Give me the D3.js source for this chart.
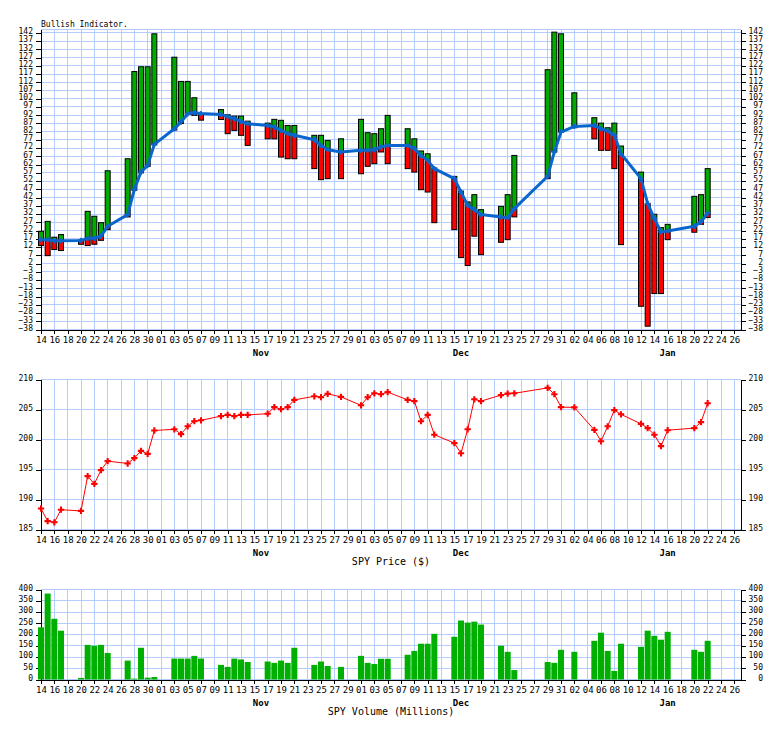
<html>
<head>
<meta charset="utf-8">
<title>Bullish Indicator</title>
<style>
  body { margin: 0; background: #fff; }
  text { font-family: "DejaVu Sans Mono", monospace; fill: #000; }
  .grid line { stroke: #b4ccff; stroke-width: 1; shape-rendering: crispEdges; }
  .axis path, .axis line { stroke: #000; shape-rendering: crispEdges; }
  .axis text { font-size: 8px; }
  .xaxis text { font-size: 9px; }
  .month { font-size: 9px; font-weight: bold; text-anchor: middle; }
  .caption { font-size: 10px; text-anchor: middle; }
  .ma { fill: none; stroke: #0a66cc; stroke-width: 3; stroke-linejoin: round; }
  .price { fill: none; stroke: #ff0000; stroke-width: 1; }
</style>
</head>
<body>
<svg width="784" height="729"></svg>
<script src="https://cdnjs.cloudflare.com/ajax/libs/d3/7.8.5/d3.min.js"></script>
<script>
// trading days
var days = [
  "2014-10-14","2014-10-15","2014-10-16","2014-10-17","2014-10-20","2014-10-21","2014-10-22",
  "2014-10-23","2014-10-24","2014-10-27","2014-10-28","2014-10-29","2014-10-30","2014-10-31",
  "2014-11-03","2014-11-04","2014-11-05","2014-11-06","2014-11-07","2014-11-10","2014-11-11",
  "2014-11-12","2014-11-13","2014-11-14","2014-11-17","2014-11-18","2014-11-19","2014-11-20",
  "2014-11-21","2014-11-24","2014-11-25","2014-11-26","2014-11-28",
  "2014-12-01","2014-12-02","2014-12-03","2014-12-04","2014-12-05","2014-12-08","2014-12-09",
  "2014-12-10","2014-12-11","2014-12-12","2014-12-15","2014-12-16","2014-12-17","2014-12-18",
  "2014-12-19","2014-12-22","2014-12-23","2014-12-24","2014-12-29","2014-12-30","2014-12-31",
  "2015-01-02","2015-01-05","2015-01-06","2015-01-07","2015-01-08","2015-01-09","2015-01-12",
  "2015-01-13","2015-01-14","2015-01-15","2015-01-16","2015-01-20","2015-01-21","2015-01-22"
];

// bullish indicator: bar top, bar bottom, moving average
var indTop = [
  21.6, 27.6, 18, 19.6, 16.3, 33.7, 30.7, 26.8, 58.3, 65.6, 118.5, 121.4, 121.4, 141.4,
  127.2, 112.5, 112.5, 102.6, 93, 95.4, 92.3, 91.5, 91.5, 88.4, 87.2, 89.5, 88.9, 85.8,
  85.8, 79.8, 79.8, 76.7, 77.7,
  89.5, 81.4, 80.8, 83.8, 91.9, 83.8, 77.7, 70.3, 68.6, 60, 54.9, 46, 39.4, 43.8,
  34.7, 36.7, 43.8, 67.6, 119.6, 142.4, 141.4,
  105.6, 90.5, 87.2, 84.4, 87.2, 73.3, 57.5, 38.4, 31.9, 23.8, 25.8, 42.8, 43.8, 59.6
];
var indBottom = [
  12.9, 6.8, 10.5, 9.9, 13.7, 12.9, 13.7, 16.1, 22.6, 30.3, 46.5, 57, 61, 74,
  83, 87, 92.5, 91.9, 89, 89.4, 80.8, 82.8, 79.8, 73.7, 77.7, 77.7, 66.6, 65.6,
  65.6, 59.6, 52.9, 53.5, 53.5,
  56.5, 61, 62.6, 69.7, 62.6, 59.6, 57.5, 46.8, 45.4, 26.8, 22.6, 5.6, 0.8, 18.6,
  7.4, 14.9, 16.5, 30.3, 53.5, 69.7, 81.8,
  84.4, 77.7, 70.7, 70.7, 59.6, 13.5, -23.9, -36, -16.2, -16.2, 16.5, 21, 25.8, 29.9
];
var indMA = [
  16.5, 16.5, 15.8, 15.8, 16, 17.3, 17.3, 18.6, 24.6, 31.7, 47, 57.5, 61.6, 74.3,
  83.8, 87.8, 92.9, 93.5, 93, 92.5, 91.1, 89.9, 88.2, 86.8, 85.8, 84.8, 82.8, 80.8,
  79.8, 77.1, 73.7, 71.1, 69.7,
  70.7, 70.7, 71.1, 72.7, 73.7, 73.7, 71.7, 67.6, 64.6, 59.6, 53.5, 45.4, 37.3, 34.7,
  31.7, 30.3, 29.7, 35.3, 55, 69.7, 81.8,
  85.2, 85.8, 83.8, 82.4, 79.8, 68.6, 53.5, 38.4, 29.3, 21.2, 21.8, 24.6, 27.2, 32.7
];

// SPY close ($)
var price = [
  188.5, 186.4, 186.2, 188.3, 188.1, 193.9, 192.6, 194.9, 196.4, 196.0, 196.9, 198.1, 197.6, 201.5,
  201.7, 200.9, 202.2, 203.05, 203.2, 203.9, 204.1, 203.9, 204.1, 204.1, 204.3, 205.4, 205.05, 205.4,
  206.6, 207.2, 207.05, 207.6, 207.1,
  205.7, 207.05, 207.7, 207.55, 207.9, 206.6, 206.4, 203.05, 204.1, 200.8, 199.4, 197.7, 201.7, 206.7,
  206.4, 207.4, 207.65, 207.7, 208.6, 207.55, 205.4,
  205.35, 201.6, 199.7, 202.2, 204.9, 204.2, 202.6, 201.9, 200.8, 198.9, 201.55, 201.9, 202.9, 206.05
];

// SPY volume (millions)
var volume = [
  232, 382, 270, 217, 7, 154, 150, 154, 118, 84, 4, 141, 8, 11,
  93, 93, 93, 105, 93, 65, 56, 93, 89, 78, 80, 74, 84, 74,
  141, 65, 80, 60, 56,
  105, 74, 69, 92, 92, 110, 127, 159, 159, 203, 190, 262, 253, 257,
  244, 150, 123, 42, 78, 74, 132,
  123, 172, 208, 127, 38, 159, 145, 217, 194, 177, 212, 132, 123, 172
];

var indTicks = d3.range(-38, 143, 5),
    priceTicks = d3.range(185, 211, 5),
    volTicks = d3.range(0, 401, 50);
var months = [["2014-11-16", "Nov"], ["2014-12-16", "Dec"], ["2015-01-16", "Jan"]];

var parse = d3.utcParse("%Y-%m-%d");
var dates = days.map(parse);
var start = dates[0];

var svg = d3.select("svg");
var left = 41, right = 741;

var x = d3.scaleUtc()
    .domain([start, d3.utcDay.offset(start, 105)])
    .range([left, right]);

var dayTicks = d3.utcDay.range(start, d3.utcDay.offset(start, 105), 2);

function frame(y, ticks, top, bottom, caption) {
  var g = svg.append("g");

  var grid = g.append("g").attr("class", "grid");
  grid.selectAll(".v").data(dayTicks).enter().append("line")
      .attr("x1", function(d) { return x(d); })
      .attr("x2", function(d) { return x(d); })
      .attr("y1", top).attr("y2", bottom);
  grid.selectAll(".h").data(ticks.concat([y.domain()[1]])).enter().append("line")
      .attr("x1", left).attr("x2", right)
      .attr("y1", function(d) { return y(d); })
      .attr("y2", function(d) { return y(d); });

  var ax = g.append("g").attr("class", "axis")
      .attr("transform", "translate(" + left + ",0)")
      .call(d3.axisLeft(y).tickValues(ticks).tickSize(5).tickSizeOuter(0));
  ax.selectAll("text").attr("x", -8).attr("dy", "0.1em");

  var ar = g.append("g").attr("class", "axis")
      .attr("transform", "translate(" + right + ",0)")
      .call(d3.axisRight(y).tickValues(ticks).tickSize(5).tickSizeOuter(0));
  ar.selectAll("text").attr("x", 22).attr("dy", "0.1em").attr("text-anchor", "end");

  g.append("g").attr("class", "axis xaxis")
      .attr("transform", "translate(0," + bottom + ")")
      .call(d3.axisBottom(x).tickValues(dayTicks).tickFormat(d3.utcFormat("%d")).tickSize(4).tickSizeOuter(0));

  g.selectAll(".month").data(months).enter().append("text")
      .attr("class", "month")
      .attr("x", function(d) { return x(parse(d[0])); })
      .attr("y", bottom + 26)
      .text(function(d) { return d[1]; });

  if (caption) {
    g.append("text").attr("class", "caption")
        .attr("x", (left + right) / 2)
        .attr("y", bottom + 35)
        .text(caption);
  }
  return g;
}

// ---- bullish indicator ----
var y1 = d3.scaleLinear().domain([-38, 144]).range([329.5, 29.5]);
frame(y1, indTicks, 29.5, 329.5, null);

svg.append("text")
    .attr("x", left).attr("y", 27)
    .style("font-size", "8px")
    .text("Bullish Indicator.");

var bw = 5;
var bars = svg.append("g").selectAll("g").data(dates).enter().append("g");
bars.append("rect")
    .attr("x", function(d) { return x(d) - bw / 2; })
    .attr("width", bw)
    .attr("y", function(d, i) { return y1(indTop[i]); })
    .attr("height", function(d, i) { return Math.max(0, y1(Math.max(indMA[i], indBottom[i])) - y1(indTop[i])); })
    .attr("fill", "#00aa00");
bars.append("rect")
    .attr("x", function(d) { return x(d) - bw / 2; })
    .attr("width", bw)
    .attr("y", function(d, i) { return y1(Math.min(indMA[i], indTop[i])); })
    .attr("height", function(d, i) { return Math.max(0, y1(indBottom[i]) - y1(Math.min(indMA[i], indTop[i]))); })
    .attr("fill", "#ff0000");
bars.append("rect")
    .attr("x", function(d) { return x(d) - bw / 2; })
    .attr("width", bw)
    .attr("y", function(d, i) { return y1(indTop[i]); })
    .attr("height", function(d, i) { return y1(indBottom[i]) - y1(indTop[i]); })
    .attr("fill", "none")
    .attr("stroke", "#000")
    .attr("stroke-width", 1);

svg.append("path")
    .datum(dates)
    .attr("class", "ma")
    .attr("d", d3.line()
        .x(function(d) { return x(d); })
        .y(function(d, i) { return y1(indMA[i]); }));

svg.append("g").selectAll("path").data(dates).enter().append("path")
    .attr("transform", function(d, i) { return "translate(" + x(d) + "," + y1(indMA[i]) + ")"; })
    .attr("d", d3.symbol().type(d3.symbolCross).size(16))
    .attr("fill", "#0a66cc");

// ---- price ----
var y2 = d3.scaleLinear().domain([185, 210]).range([529.5, 379.5]);
frame(y2, priceTicks, 379.5, 529.5, "SPY Price ($)");

svg.append("path")
    .datum(dates)
    .attr("class", "price")
    .attr("d", d3.line()
        .x(function(d) { return x(d); })
        .y(function(d, i) { return y2(price[i]); }));

svg.append("g").selectAll("path").data(dates).enter().append("path")
    .attr("transform", function(d, i) { return "translate(" + x(d) + "," + y2(price[i]) + ")"; })
    .attr("d", d3.symbol().type(d3.symbolCross).size(22))
    .attr("fill", "#ff0000");

// ---- volume ----
var y3 = d3.scaleLinear().domain([0, 400]).range([679.5, 589.5]);
frame(y3, volTicks, 589.5, 679.5, "SPY Volume (Millions)");

svg.append("g").selectAll("rect").data(dates).enter().append("rect")
    .attr("x", function(d) { return x(d) - 3; })
    .attr("width", 6)
    .attr("y", function(d, i) { return y3(volume[i]); })
    .attr("height", function(d, i) { return y3(0) - y3(volume[i]); })
    .attr("fill", "#00b000");
</script>
</body>
</html>
